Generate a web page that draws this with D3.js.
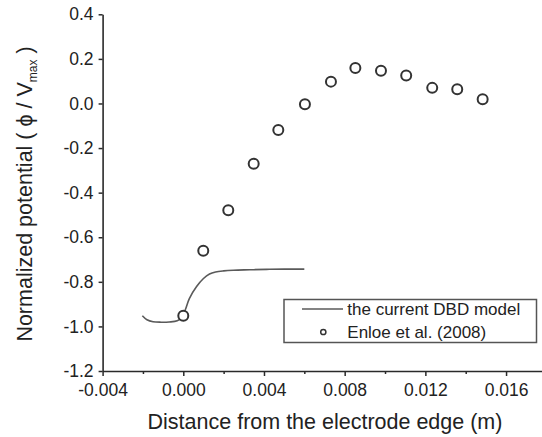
<!DOCTYPE html>
<html>
<head>
<meta charset="utf-8">
<script src="https://cdn.jsdelivr.net/npm/d3@7"></script>
<style>
  html, body { margin: 0; padding: 0; background: #fff; }
  svg { display: block; font-family: "Liberation Sans", Arial, sans-serif; }
</style>
</head>
<body>
<svg id="chart" width="542" height="437"></svg>
<script>
// Measured normalized potential (Enloe et al., 2008)
const expX = [0.0000, 0.00099, 0.00223, 0.00349, 0.00471, 0.00603, 0.00732, 0.00853, 0.00980, 0.01105, 0.01234, 0.01358, 0.01484];
const expY = [-0.952, -0.661, -0.479, -0.270, -0.119, -0.004, 0.098, 0.159, 0.147, 0.126, 0.070, 0.064, 0.019];

// Model curve (current DBD model)
const modelX = [-0.00203, -0.0018, -0.0015, -0.0011, -0.0007, -0.0003, -0.0001, 0.0001, 0.0003, 0.00066, 0.00100, 0.00130, 0.00160, 0.00200, 0.00248, 0.00330, 0.00413, 0.00500, 0.00600];
const modelY = [-0.952, -0.970, -0.979, -0.981, -0.980, -0.975, -0.962, -0.925, -0.875, -0.821, -0.785, -0.765, -0.756, -0.751, -0.748, -0.746, -0.744, -0.743, -0.743];

// Axis ticks and labels
const xTicks = [-0.004, 0.000, 0.004, 0.008, 0.012, 0.016];
const xTickLabels = ["-0.004", "0.000", "0.004", "0.008", "0.012", "0.016"];
const xMinorTicks = [-0.002, 0.002, 0.006, 0.010, 0.014];
const yTicks = [-1.2, -1.0, -0.8, -0.6, -0.4, -0.2, 0.0, 0.2, 0.4];
const yTickLabels = ["-1.2", "-1.0", "-0.8", "-0.6", "-0.4", "-0.2", "0.0", "0.2", "0.4"];

const legendLabels = ["the current DBD model", "Enloe et al. (2008)"];

const svg = d3.select("#chart");

const x = d3.scaleLinear().domain([-0.004, 0.018]).range([102.6, 546.4]);
const y = d3.scaleLinear().domain([-1.2, 0.4]).range([371, 14.3]);

const axisColor = "#2a2a2a";
const tickFont = "17.5px";

// X axis: major ticks with labels
const xAxis = svg.append("g")
  .attr("transform", `translate(0,${y(-1.2)})`)
  .call(d3.axisBottom(x)
    .tickValues(xTicks)
    .tickSize(5)
    .tickSizeOuter(0)
    .tickPadding(8)
    .tickFormat((d, i) => xTickLabels[i]));
xAxis.select(".domain").attr("stroke", axisColor).attr("stroke-width", 1.6);
xAxis.selectAll(".tick line").attr("stroke", axisColor).attr("stroke-width", 1.5);
xAxis.selectAll(".tick text")
  .attr("fill", "#222")
  .style("font-size", tickFont)
  .style("font-family", "'Liberation Sans', Arial, sans-serif");

// X axis: minor ticks
const xMinor = svg.append("g")
  .attr("transform", `translate(0,${y(-1.2)})`)
  .call(d3.axisBottom(x)
    .tickValues(xMinorTicks)
    .tickSize(3)
    .tickSizeOuter(0)
    .tickFormat(() => ""));
xMinor.select(".domain").remove();
xMinor.selectAll(".tick line").attr("stroke", axisColor).attr("stroke-width", 1.5);

// Y axis
const yAxis = svg.append("g")
  .attr("transform", `translate(${x(-0.004)},0)`)
  .call(d3.axisLeft(y)
    .tickValues(yTicks)
    .tickSize(4)
    .tickSizeOuter(0)
    .tickPadding(5)
    .tickFormat((d, i) => yTickLabels[i]));
yAxis.select(".domain").attr("stroke", axisColor).attr("stroke-width", 1.6);
yAxis.selectAll(".tick line").attr("stroke", axisColor).attr("stroke-width", 1.5);
yAxis.selectAll(".tick text")
  .attr("fill", "#222")
  .style("font-size", tickFont)
  .style("font-family", "'Liberation Sans', Arial, sans-serif");

// Model line
const modelData = modelX.map((v, i) => [v, modelY[i]]);
svg.append("path")
  .datum(modelData)
  .attr("fill", "none")
  .attr("stroke", "#5a5a5a")
  .attr("stroke-width", 1.6)
  .attr("d", d3.line().x(d => x(d[0])).y(d => y(d[1])).curve(d3.curveCatmullRom));

// Experimental points
const expData = expX.map((v, i) => [v, expY[i]]);
svg.append("g").selectAll("circle")
  .data(expData)
  .join("circle")
  .attr("cx", d => x(d[0]))
  .attr("cy", d => y(d[1]))
  .attr("r", 5)
  .attr("fill", "#fff")
  .attr("stroke", "#333")
  .attr("stroke-width", 2);

// Legend
const lg = svg.append("g");
lg.append("rect")
  .attr("x", 284).attr("y", 299.5)
  .attr("width", 252.5).attr("height", 43)
  .attr("fill", "#fff")
  .attr("stroke", "#555")
  .attr("stroke-width", 1.5);
lg.append("line")
  .attr("x1", 302).attr("x2", 343)
  .attr("y1", 309).attr("y2", 309)
  .attr("stroke", "#5a5a5a").attr("stroke-width", 1.6);
lg.append("circle")
  .attr("cx", 323.3).attr("cy", 332)
  .attr("r", 2.6)
  .attr("fill", "#fff").attr("stroke", "#333").attr("stroke-width", 1.5);
lg.selectAll("text.lbl")
  .data(legendLabels)
  .join("text")
  .attr("class", "lbl")
  .attr("x", 347.3)
  .attr("y", (d, i) => 309 + i * 23)
  .attr("dy", "0.35em")
  .attr("fill", "#222")
  .style("font-size", "17px")
  .text(d => d);

// Axis titles
svg.append("text")
  .attr("x", 325)
  .attr("y", 429)
  .attr("text-anchor", "middle")
  .attr("fill", "#222")
  .style("font-size", "21.5px")
  .text("Distance from the electrode edge (m)");

const yt = svg.append("text")
  .attr("transform", "translate(32,194) rotate(-90)")
  .attr("text-anchor", "middle")
  .attr("fill", "#222")
  .style("font-size", "21.5px");
yt.append("tspan").text("Normalized potential ( \u03D5 / V");
yt.append("tspan").attr("dy", "5").style("font-size", "12px").text("max");
yt.append("tspan").attr("dy", "-5").text("  )");
</script>
</body>
</html>
